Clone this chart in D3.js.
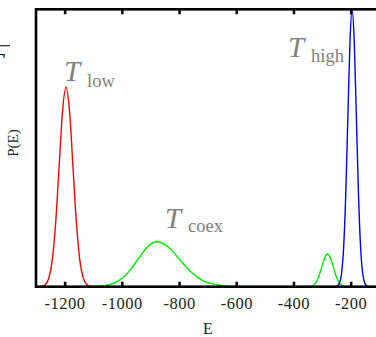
<!DOCTYPE html>
<html><head><meta charset="utf-8">
<script src="https://cdn.jsdelivr.net/npm/d3@7"></script>
<style>body{margin:0;background:#fff;} svg{display:block;}</style>
</head><body>
<script>
// ---- data ----
const tickValues = [-1200, -1000, -800, -600, -400, -200];
const tickLabels = ["-1200", "-1000", "-800", "-600", "-400", "-200"];

// T_low (red)
const lowE = [-1300, -1291, -1279, -1267, -1255, -1243, -1231, -1219, -1207, -1195, -1183, -1171, -1159, -1147, -1135, -1123, -1111, -1099, -100];
const lowP = [0, 0.0002, 0.0016, 0.008, 0.032, 0.097, 0.234, 0.437, 0.635, 0.72, 0.635, 0.437, 0.234, 0.097, 0.032, 0.008, 0.0016, 0.0002, 0];

// T_coex (green)
const coexE = [-1300, -1142, -1109, -1076, -1043, -1010, -977, -944, -911, -878, -838, -798, -758, -718, -678, -638, -598, -558, -361, -341, -331, -321, -311, -301, -291, -281, -271, -261, -251, -241, -231, -221, -201, -100];
const coexP = [0, 0.00005, 0.0004, 0.0018, 0.0071, 0.0219, 0.0526, 0.098, 0.143, 0.162, 0.143, 0.098, 0.0526, 0.0219, 0.009, 0.003, 0.0005, 0, 0, 0.0013, 0.0052, 0.016, 0.0383, 0.0716, 0.104, 0.118, 0.104, 0.0716, 0.0383, 0.016, 0.0052, 0.0013, 0, 0];

// T_high (blue)
const highE = [-1300, -262, -255, -247.5, -240, -232.5, -225, -217.5, -210, -202.5, -195, -187.5, -180, -172.5, -165, -157.5, -150, -142.5, -135, -127, -100];
const highP = [0, 0, 0.0003, 0.0022, 0.0111, 0.0439, 0.1353, 0.3247, 0.6065, 0.8825, 1.0, 0.8825, 0.6065, 0.3247, 0.1353, 0.0439, 0.0111, 0.0022, 0.0003, 0, 0];

const seriesNames = ["low", "coex", "high"];
const seriesColors = ["#ff0000", "#00ee00", "#0000ff"];

// ---- drawing ----
const W = 376, H = 337;
const mLeft = 36, mRight = 379.3, mTop = 9.3, mBottom = 286.7;
const x = d3.scaleLinear().domain([-1300, -100]).range([mLeft, mRight]);
const y = d3.scaleLinear().domain([0, 1]).range([mBottom, mTop]);

const svg = d3.select("body").append("svg").attr("width", W).attr("height", H);
svg.append("defs").append("clipPath").attr("id", "clip")
  .append("rect").attr("x", mLeft).attr("y", mTop).attr("width", mRight - mLeft).attr("height", mBottom - mTop);

const line = d3.line().x(d => x(d[0])).y(d => y(d[1])).curve(d3.curveMonotoneX);
const series = [d3.zip(lowE, lowP), d3.zip(coexE, coexP), d3.zip(highE, highP)];
svg.append("g").attr("clip-path", "url(#clip)")
  .selectAll("path").data(series).join("path")
  .attr("d", line).attr("fill", "none")
  .attr("stroke", (d, i) => seriesColors[i]).attr("stroke-width", 1.4);

// frame
svg.append("rect").attr("x", mLeft).attr("y", mTop).attr("width", mRight - mLeft).attr("height", mBottom - mTop)
  .attr("fill", "none").attr("stroke", "#000").attr("stroke-width", 2.6);

const font = "'Liberation Serif', 'DejaVu Serif', serif";
// bottom axis
const gb = svg.append("g").attr("transform", `translate(0,${mBottom})`)
  .call(d3.axisBottom(x).tickValues(tickValues).tickFormat((d, i) => tickLabels[i]).tickSize(-5).tickPadding(10.8));
gb.select(".domain").remove();
gb.selectAll(".tick line").attr("stroke", "#000").attr("stroke-width", 2.5);
gb.selectAll(".tick text").attr("font-family", font).attr("font-size", 16.5)
  .attr("fill", "#222").style("letter-spacing", "0.5px");
// top axis
const gt = svg.append("g").attr("transform", `translate(0,${mTop})`)
  .call(d3.axisTop(x).tickValues(tickValues).tickFormat("").tickSize(-5));
gt.select(".domain").remove();
gt.selectAll(".tick line").attr("stroke", "#000").attr("stroke-width", 2.5);

// axis titles
svg.append("text").attr("x", 208).attr("y", 334).attr("text-anchor", "middle")
  .attr("font-family", font).attr("font-size", 16).attr("fill", "#222").text("E");
svg.append("text").attr("transform", "translate(18,143) rotate(-90)").attr("text-anchor", "middle")
  .attr("font-family", font).attr("font-size", 15).attr("fill", "#222").text("P(E)");

// fragment at top-left (cut-off label)
svg.append("line").attr("x1", -10).attr("x2", 10).attr("y1", 45.7).attr("y2", 45.7)
  .attr("stroke", "#222").attr("stroke-width", 1.2);
svg.append("text").attr("x", -11).attr("y", 71).attr("font-family", font).attr("font-style", "italic")
  .attr("font-size", 26).attr("fill", "#222").text("T");

// series labels
const labelPos = [
  {tx: 64, ty: 81, sx: 87, sy: 87},
  {tx: 165, ty: 228, sx: 188, sy: 232},
  {tx: 288, ty: 57, sx: 311, sy: 62}
];
labelPos.forEach((p, i) => {
  svg.append("text").attr("x", p.tx).attr("y", p.ty).attr("font-family", font)
    .attr("font-style", "italic").attr("font-size", 29).attr("fill", "#808080").text("T");
  svg.append("text").attr("x", p.sx).attr("y", p.sy).attr("font-family", font)
    .attr("font-size", 18.5).attr("fill", "#808080").text(seriesNames[i]);
});
</script>
</body></html>
